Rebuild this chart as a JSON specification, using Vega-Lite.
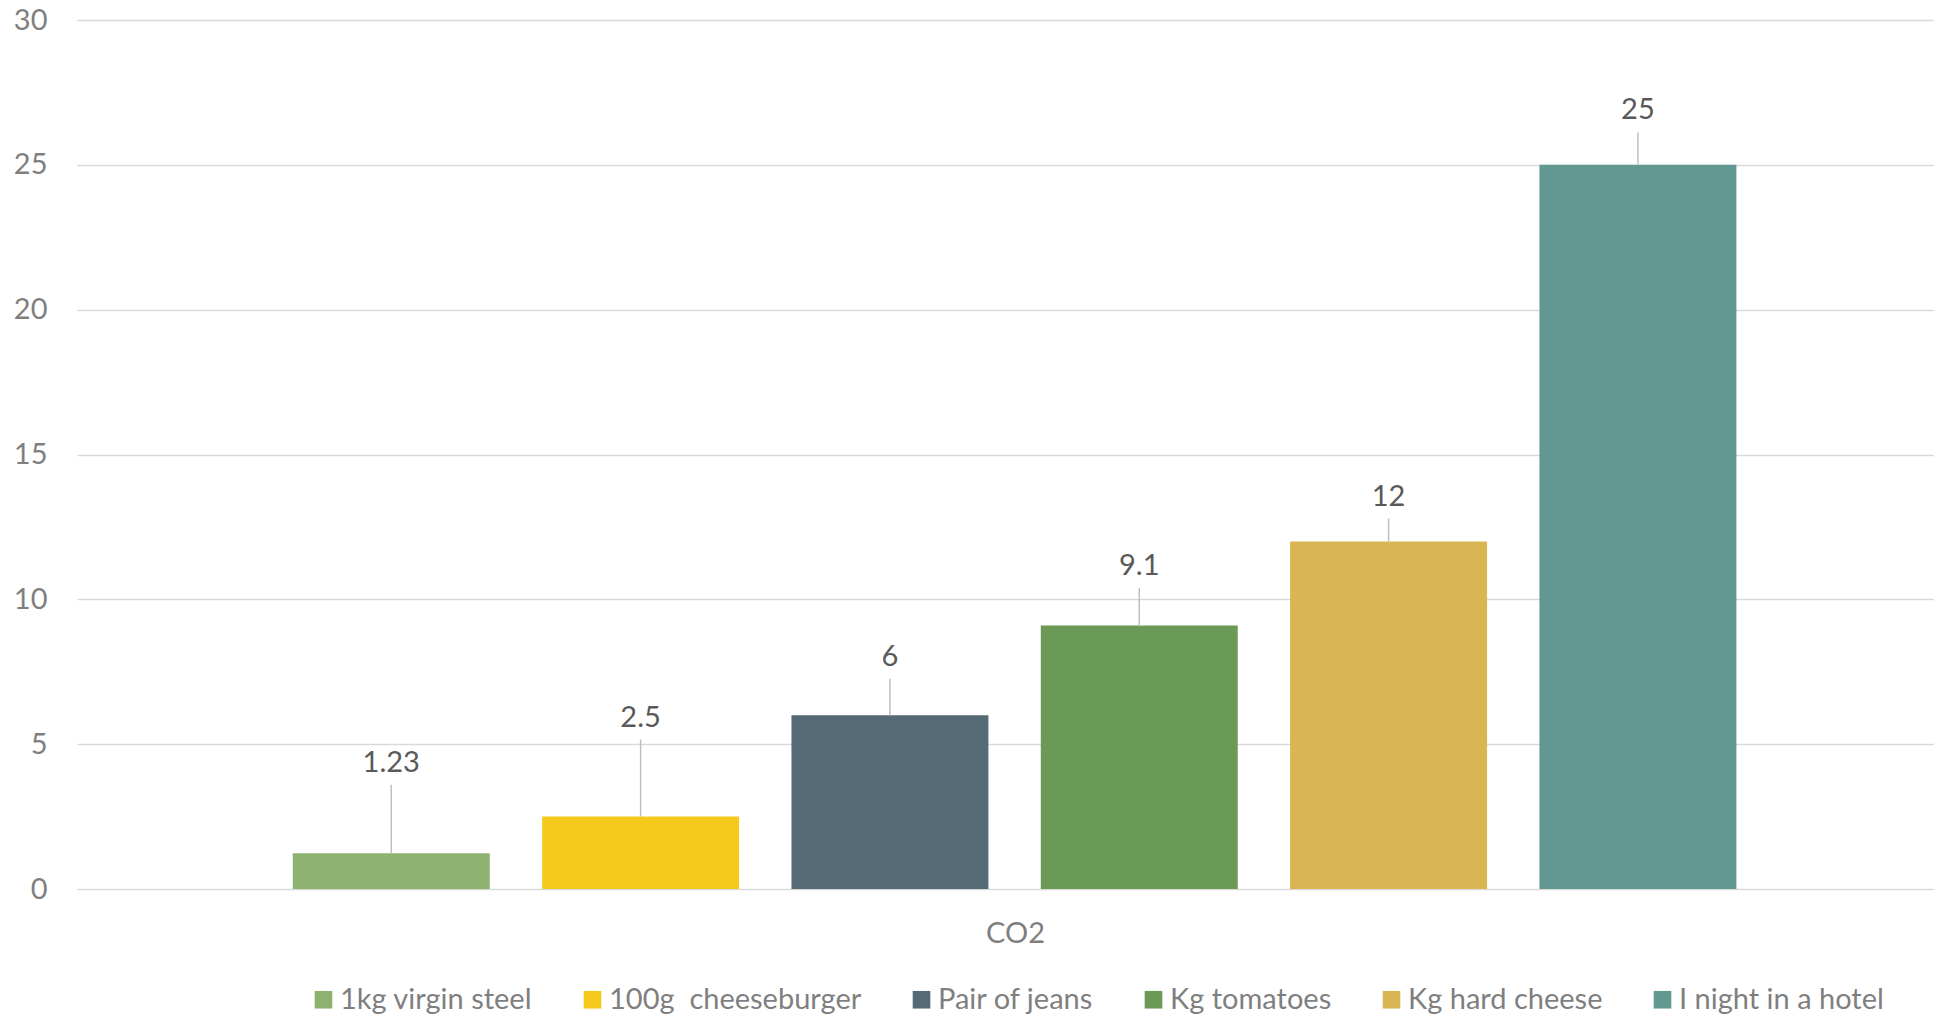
{
  "$schema": "https://vega.github.io/schema/vega-lite/v6.json",
  "autosize": {"type": "none"},
  "padding": {"left": 77, "top": 20, "right": 0, "bottom": 126},
  "width": 1857,
  "height": 869,
  "background": "white",
  "config": {
    "view": {"stroke": null},
    "font": "Lato",
    "axis": {"labelFont": "Lato", "titleFont": "Lato"},
    "legend": {"labelFont": "Lato"}
  },
  "data": {
    "values": [
      {"item": "1kg virgin steel", "group": "CO2", "value": 1.23, "label": "1.23", "labelY": 4.36},
      {"item": "100g\u00a0 cheeseburger", "group": "CO2", "value": 2.5, "label": "2.5", "labelY": 5.92},
      {"item": "Pair of jeans", "group": "CO2", "value": 6, "label": "6", "labelY": 8.02},
      {"item": "Kg tomatoes", "group": "CO2", "value": 9.1, "label": "9.1", "labelY": 11.15},
      {"item": "Kg hard cheese", "group": "CO2", "value": 12, "label": "12", "labelY": 13.55},
      {"item": "I night in a hotel", "group": "CO2", "value": 25, "label": "25", "labelY": 26.88}
    ]
  },
  "encoding": {
    "x": {
      "field": "item",
      "type": "nominal",
      "sort": null,
      "scale": {"paddingInner": 0.21, "paddingOuter": 0.829, "align": 0.522},
      "axis": {
        "title": "CO2",
        "labels": false,
        "ticks": false,
        "domain": false,
        "grid": false,
        "titleFontSize": 29,
        "titleFontWeight": "normal",
        "titleColor": "#7f7f7f",
        "titlePadding": 30,
        "titleX": 938
      }
    }
  },
  "layer": [
    {
      "mark": {"type": "bar"},
      "encoding": {
        "y": {
          "field": "value",
          "type": "quantitative",
          "scale": {"domain": [0, 30], "nice": false},
          "axis": {
            "title": null,
            "values": [0, 5, 10, 15, 20, 25, 30],
            "domain": false,
            "ticks": false,
            "grid": true,
            "gridColor": "#d9d9d9",
            "gridWidth": 1.5,
            "labelFontSize": 29,
            "labelColor": "#7f7f7f",
            "labelPadding": 30
          }
        },
        "color": {
          "field": "item",
          "type": "nominal",
          "sort": null,
          "scale": {
            "domain": ["1kg virgin steel", "100g\u00a0 cheeseburger", "Pair of jeans", "Kg tomatoes", "Kg hard cheese", "I night in a hotel"],
            "range": ["#8DB26F", "#F5CA1D", "#566A75", "#6A9A55", "#D9B554", "#619892"]
          },
          "legend": {
            "title": null,
            "orient": "none",
            "direction": "horizontal",
            "columns": 6,
            "legendX": 232,
            "legendY": 965,
            "padding": 0,
            "symbolType": "square",
            "symbolSize": 310,
            "symbolStrokeWidth": 0,
            "labelFontSize": 29,
            "labelColor": "#7f7f7f",
            "labelOffset": 2,
            "columnPadding": 45,
            "labelLimit": 400
          }
        }
      }
    },
    {
      "mark": {"type": "rule", "color": "#bfbfbf", "strokeWidth": 1.5, "yOffset": 22},
      "encoding": {
        "y": {"field": "labelY", "type": "quantitative"},
        "y2": {"field": "value"}
      }
    },
    {
      "mark": {"type": "text", "fontSize": 29, "color": "#595959", "baseline": "middle", "align": "center"},
      "encoding": {
        "y": {"field": "labelY", "type": "quantitative"},
        "text": {"field": "label"}
      }
    }
  ]
}
